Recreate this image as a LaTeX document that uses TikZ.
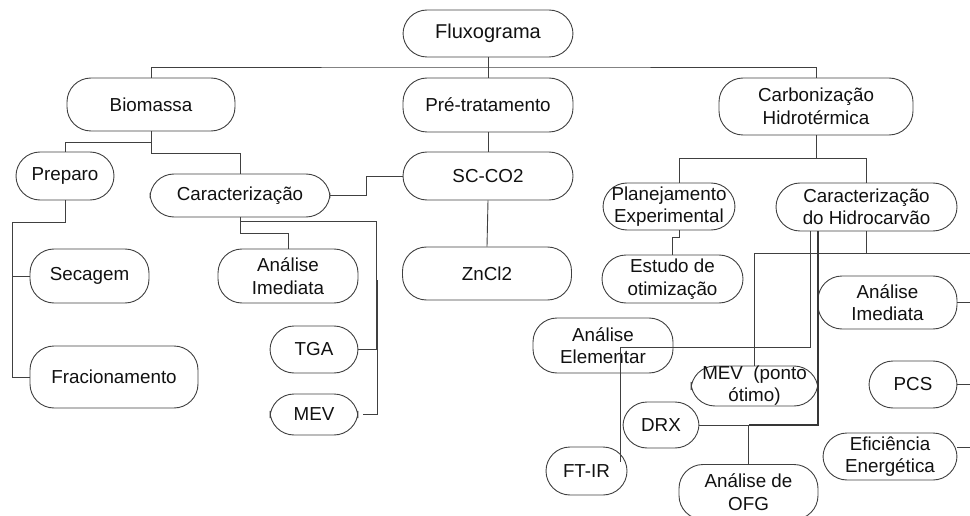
\documentclass[tikz,border=0pt]{standalone}
\usepackage{fontspec}
\setmainfont{Liberation Sans}
\usetikzlibrary{calc}
\definecolor{ln}{HTML}{404040}
\definecolor{tx}{HTML}{111111}
\begin{document}
\begin{tikzpicture}[x=1pt,y=-1pt,
 box/.style={draw=ln, line width=0.9pt, rounded corners=24pt, inner sep=0pt, align=center, text=tx, font=\fontsize{18.8}{22.5}\selectfont},
 conn/.style={draw=ln, line width=0.9pt},
 thickconn/.style={draw=ln!85!black, line width=2pt}
 ]
\useasboundingbox (0,0) rectangle (970,516);
\clip (0,0) rectangle (970,516);
% nodes
\node[box, minimum width=170pt, minimum height=47pt, font=\fontsize{20}{24}\selectfont] (flux) at (488,33.5) {Fluxograma};
\node[box, minimum width=168pt, minimum height=53pt] (bio) at (151,104.5) {Biomassa};
\node[box, minimum width=170pt, minimum height=54pt] (pre) at (488,105) {Pré-tratamento};
\node[box, minimum width=194pt, minimum height=57pt] (carb) at (816,106.5) {Carbonização\\Hidrotérmica};
\node[box, minimum width=98pt, minimum height=48pt] (prep) at (65,176) {Preparo};
\node[box, minimum width=180pt, minimum height=43pt] (carac) at (240,195.5) {Caracterização};
\node[box, minimum width=170pt, minimum height=48pt] (sc) at (488,176) {SC-CO2};
\node[box, minimum width=132pt, minimum height=47pt] (plan) at (669,206.5) {Planejamento\\Experimental};
\node[box, minimum width=181pt, minimum height=48pt] (cdh) at (866.5,207) {Caracterização\\do Hidrocarvão};
\node[box, minimum width=119pt, minimum height=54pt] (sec) at (89.5,276) {Secagem};
\node[box, minimum width=140pt, minimum height=54pt] (aim1) at (288,276) {Análise\\Imediata};
\node[box, minimum width=169pt, minimum height=53pt] (zn) at (487,273.5) {ZnCl2};
\node[box, minimum width=168pt, minimum height=62pt] (frac) at (114,377) {Fracionamento};
\node[box, minimum width=88pt, minimum height=47pt] (tga) at (314,349.5) {TGA};
\node[box, minimum width=88pt, minimum height=41pt] (mev1) at (314,414.5) {MEV};
\node[box, minimum width=141pt, minimum height=48pt] (est) at (672.5,279) {Estudo de\\otimização};
\node[box, minimum width=140pt, minimum height=55pt] (ael) at (603,345.5) {Análise\\Elementar};
\node[box, minimum width=139pt, minimum height=53pt] (aim2) at (887.5,302.5) {Análise\\Imediata};
\node[box, minimum width=127pt, minimum height=40pt,
  label={[align=center, text=tx, inner sep=0pt, font=\fontsize{18.8}{22}\selectfont]center:MEV\ \ (ponto\\ótimo)}] (mevp) at (754.5,386) {};
\node[box, minimum width=76pt, minimum height=46pt] (drx) at (661,425) {DRX};
\node[box, minimum width=88pt, minimum height=47pt] (pcs) at (913,384.5) {PCS};
\node[box, minimum width=81pt, minimum height=48pt] (ftir) at (586.5,471) {FT-IR};
\node[box, minimum width=139pt, minimum height=55pt] (ofg) at (748.5,492) {Análise de\\OFG};
\node[box, minimum width=134pt, minimum height=47pt] (ef) at (890,456.5) {Eficiência\\Energética};
% connectors
\coordinate (j1) at (488,67);
\draw[conn] (flux.south) -- (pre.north);
\draw[conn] (bio.north) |- (j1) -| (carb.north);
\draw[conn] (bio.south) -- ++(0,22) -| (carac.north);
\draw[conn] (bio.south) ++(0,11) -| (prep.north);
\coordinate (pL) at (12,222);
\draw[conn] (prep.south) |- (pL) |- (frac.west);
\draw[conn] (pL |- sec.west) -- (sec.west);
\draw[conn] (carac.east) -| ([xshift=-36.5pt]sc.west) -- (sc.west);
\draw[conn] (carac.south) -- ++(0,16) -| (aim1.north);
\draw[conn] (carac.south) ++(0,4) -| (376,349.5) -- (tga.east);
\coordinate (mj) at (377.5,280);
\draw[conn] (mj) |- ([xshift=5pt]mev1.east);
\draw[conn] (pre.south) -- (sc.north);
\draw[conn] (sc.south) -- (zn.north);
\draw[conn] (carb.south) -- ++(0,23);
\draw[conn] ([xshift=10pt]plan.north) |- (cdh.north |- 0,158) -- (cdh.north);
\draw[conn] ([xshift=10pt]plan.south) -- ++(0,7) -| (est.north);
\draw[conn] (cdh.south) -- ++(0,22);
\coordinate (rv) at (976,253);
\draw[conn] (mevp.north) |- (rv) |- ([yshift=9.5pt]ef.east);
\draw[conn] (rv |- aim2.east) -- (aim2.east);
\draw[conn] (rv |- pcs.east) -- (pcs.east);
\draw[conn] ([xshift=-56.5pt]cdh.south) -- ++(0,116) -| ([xshift=33.5pt,yshift=9pt]ftir.center);
\draw[thickconn] ([xshift=-48.5pt]cdh.south) |- (ofg.north |- drx.east);
\draw[conn] (ofg.north |- drx.east) -- (drx.east);
\draw[conn] (ofg.north |- drx.east) -- (ofg.north);
\end{tikzpicture}
\end{document}
